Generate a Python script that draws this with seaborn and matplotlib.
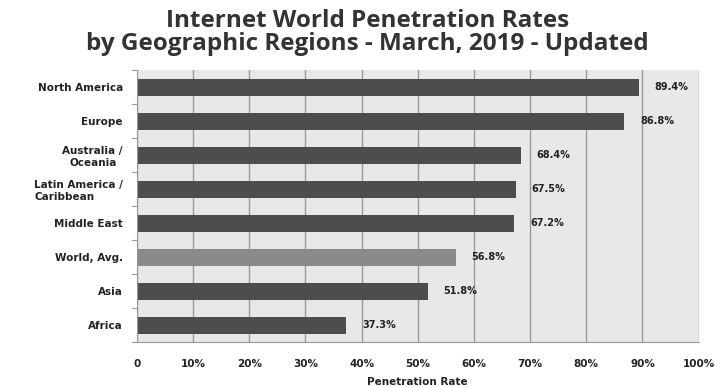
import matplotlib
matplotlib.use("Agg")
import matplotlib.pyplot as plt
import seaborn as sns
import pandas as pd

regions = ["North America", "Europe", "Australia /\nOceania", "Latin America /\nCaribbean",
           "Middle East", "World, Avg.", "Asia", "Africa"]
rates = [89.4, 86.8, 68.4, 67.5, 67.2, 56.8, 51.8, 37.3]
bar_colors = ["#4d4d4d", "#4d4d4d", "#4d4d4d", "#4d4d4d", "#4d4d4d", "#8a8a8a", "#4d4d4d", "#4d4d4d"]
xticks = [0, 10, 20, 30, 40, 50, 60, 70, 80, 90, 100]
xtick_labels = ["0", "10%", "20%", "30%", "40%", "50%", "60%", "70%", "80%", "90%", "100%"]

df = pd.DataFrame({"region": regions, "rate": rates})

sns.set_style("white")
plt.rcParams["font.family"] = ["DejaVu Sans"]

fig = plt.figure(figsize=(7.24, 3.87), dpi=100)
ax = fig.add_axes([0.189, 0.116, 0.776, 0.703])
ax.set_facecolor("#e8e8e8")

sns.barplot(data=df, x="rate", y="region", hue="region", palette=bar_colors,
            legend=False, width=0.5, orient="h", ax=ax, saturation=1, linewidth=0)

ax.set_xlim(0, 100)
ax.set_ylim(len(regions) - 0.5, -0.5)
ax.set_xticks(xticks)
ax.set_xticklabels(xtick_labels, fontsize=7.5, fontweight="bold", color="#222222")
ax.tick_params(axis="x", length=4, width=0.8, color="#888888", pad=8)
ax.tick_params(axis="y", length=0, pad=10)
for lbl, txt in zip(ax.get_yticklabels(), regions):
    lbl.set_fontsize(7.5)
    lbl.set_fontweight("bold")
    lbl.set_color("#222222")
    lbl.set_multialignment("left" if txt.startswith("Latin") else "center")

# vertical gridlines behind the bars
ax.set_axisbelow(True)
ax.xaxis.grid(True, color="#9a9a9a", linewidth=1.0)
ax.yaxis.grid(False)

# small category tick marks on the left spine
for b in range(len(regions) + 1):
    ax.plot([-0.8, 0], [b - 0.5, b - 0.5], color="#999999", lw=0.8, clip_on=False)

for s in ["top", "right"]:
    ax.spines[s].set_visible(False)
for s in ["left", "bottom"]:
    ax.spines[s].set_color("#999999")
    ax.spines[s].set_linewidth(0.8)

for i, v in enumerate(rates):
    ax.text(v + 2.8, i, f"{v:.1f}%", va="center", ha="left", fontsize=7,
            fontweight="bold", color="#222222")

ax.set_ylabel("")
ax.set_xlabel("Penetration Rate", fontsize=7.5, fontweight="bold", color="#222222", labelpad=6)

title_font = ["Open Sans", "DejaVu Sans"]
fig.text(0.508, 0.930, "Internet World Penetration Rates", ha="center", va="baseline",
         fontsize=17.5, fontweight="bold", color="#333333", family=title_font)
fig.text(0.508, 0.872, "by Geographic Regions - March, 2019 - Updated", ha="center", va="baseline",
         fontsize=17.5, fontweight="bold", color="#333333", family=title_font)

fig.savefig("out.png", dpi=100, facecolor="white")
